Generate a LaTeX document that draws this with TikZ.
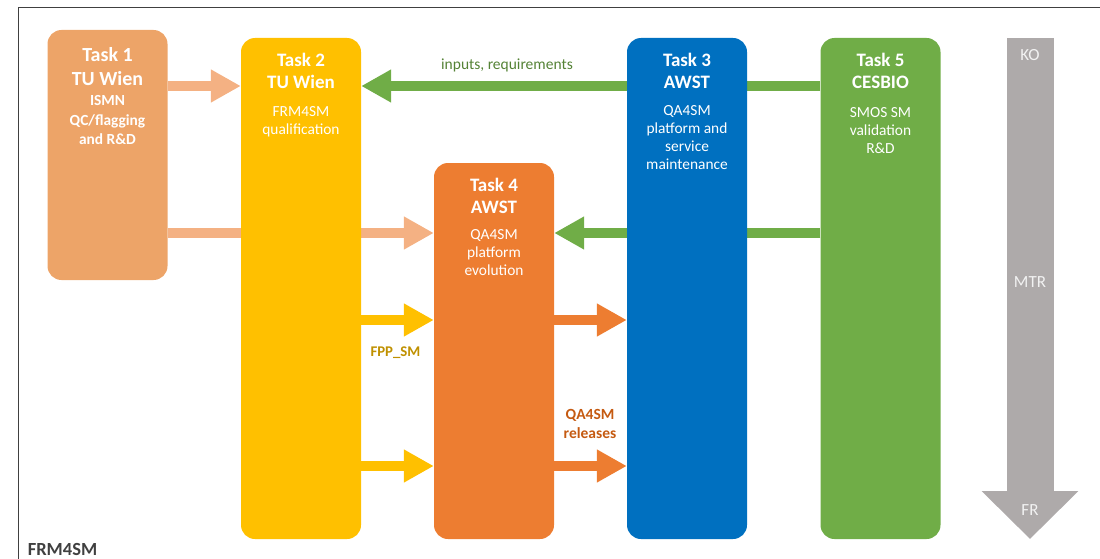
\documentclass[tikz,border=0pt]{standalone}
\usepackage{fontspec}
\setmainfont{Carlito}
\usetikzlibrary{positioning,arrows.meta}
\pgfdeclarelayer{bg}
\pgfsetlayers{bg,main}
\definecolor{tone}{HTML}{EDA468}
\definecolor{ttwo}{HTML}{FFC000}
\definecolor{tthree}{HTML}{0070C0}
\definecolor{tfour}{HTML}{ED7D31}
\definecolor{tfive}{HTML}{70AD47}
\definecolor{lightor}{HTML}{F4B183}
\definecolor{scalegray}{HTML}{AEAAAA}
\definecolor{fppcol}{HTML}{BF9000}
\definecolor{relcol}{HTML}{C55A11}
\definecolor{inpcol}{HTML}{548235}
\begin{document}
\begin{tikzpicture}[x=1pt,y=-1pt,
    task/.style={rounded corners=14pt, minimum width=120pt, inner sep=0pt},
    tasktitle/.style={text=white, align=center, inner sep=0pt,
        font=\bfseries\fontsize{19}{22}\selectfont},
    taskbody/.style={text=white, align=center, inner sep=0pt,
        font=\fontsize{15.4}{17.8}\selectfont},
    fat/.style={line width=9.5pt, -{Triangle[width=31pt,length=30pt]}}]
    \useasboundingbox (0,0) rectangle (1100,559);
    \draw[line width=0.8pt, black!75] (18,559) -- (18,7) -- (1100,7);

    \node[task, fill=tone, minimum height=250pt] (t1) at (107.5,155) {};
    \node[task, fill=ttwo, minimum height=501pt] (t2) at (301,288.5) {};
    \node[task, fill=tthree, minimum height=501pt] (t3) at (687,288.5) {};
    \node[task, fill=tfour, minimum height=376pt] (t4) at (494,351) {};
    \node[task, fill=tfive, minimum height=501pt] (t5) at (880.5,288.5) {};

    \node[tasktitle, font=\bfseries\fontsize{20}{24}\selectfont,
        below=17pt of t1.north] (t1title) {Task 1\\TU Wien};
    \node[taskbody, font=\bfseries\fontsize{15.4}{19.5}\selectfont,
        below=10pt of t1title] (t1body) {ISMN\\QC/flagging\\and R\&D};
    \node[tasktitle, below=15pt of t2.north] (t2title) {Task 2\\TU Wien};
    \node[taskbody, below=18pt of t2title] (t2body) {FRM4SM\\qualification};
    \node[tasktitle, below=15pt of t3.north] (t3title) {Task 3\\AWST};
    \node[taskbody, below=17pt of t3title]
        (t3body) {QA4SM\\platform and\\service\\maintenance};
    \node[tasktitle, below=15pt of t4.north] (t4title) {Task 4\\AWST};
    \node[taskbody, below=16pt of t4title] (t4body) {QA4SM\\platform\\evolution};
    \node[tasktitle, below=15pt of t5.north] (t5title) {Task 5\\CESBIO};
    \node[taskbody, below=19pt of t5title] (t5body) {SMOS SM\\validation\\R\&D};

    \coordinate (yIn) at (0,86);
    \coordinate (yMid) at (0,233);
    \coordinate (yFpp) at (0,320);
    \coordinate (yRel) at (0,466);

    \begin{pgfonlayer}{bg}
    \draw[fat, lightor] (t1.east |- yIn) -- (t2.west |- yIn);
    \draw[fat, lightor] (t1.east |- yMid) -- (t4.west |- yMid);
    \draw[fat, tfive] (t5.west |- yIn) -- (t2.east |- yIn);
    \draw[fat, tfive] (t5.west |- yMid) -- (t4.east |- yMid);
    \draw[fat, ttwo] (t2.east |- yFpp) -- (t4.west |- yFpp);
    \draw[fat, ttwo] (t2.east |- yRel) -- (t4.west |- yRel);
    \draw[fat, tfour] (t4.east |- yFpp) -- (t3.west |- yFpp);
    \draw[fat, tfour] (t4.east |- yRel) -- (t3.west |- yRel);
    \end{pgfonlayer}

    \node[text=inpcol, font=\fontsize{15.5}{18}\selectfont]
        (inreq) at (507,65) {inputs, requirements};
    \node[text=fppcol, font=\bfseries\fontsize{14.8}{17}\selectfont]
        (fpp) at (395.5,353) {FPP\_SM};
    \node[text=relcol, align=center, font=\bfseries\fontsize{15.5}{19}\selectfont]
        (rel) at (590,424) {QA4SM\\releases};
    \node[text=black!75, font=\bfseries\fontsize{18.5}{22}\selectfont]
        (frm) at (62.5,549) {FRM4SM};

    % maturity scale
    \coordinate (scaleTop) at (1030,38);
    \coordinate (scaleEnd) at (1030,539);
    \draw[scalegray, line width=47pt,
        -{Triangle[width=94pt,length=48pt]}] (scaleTop) -- (scaleEnd);
    \node[text=white!95!black, font=\fontsize{17}{20}\selectfont]
        (ko) at (1030,55) {KO};
    \node[text=white!95!black, font=\fontsize{17}{20}\selectfont]
        (mtr) at (1030,282) {MTR};
    \node[text=white!95!black, font=\fontsize{17}{20}\selectfont]
        (fr) at (1030,510) {FR};
\end{tikzpicture}
\end{document}
